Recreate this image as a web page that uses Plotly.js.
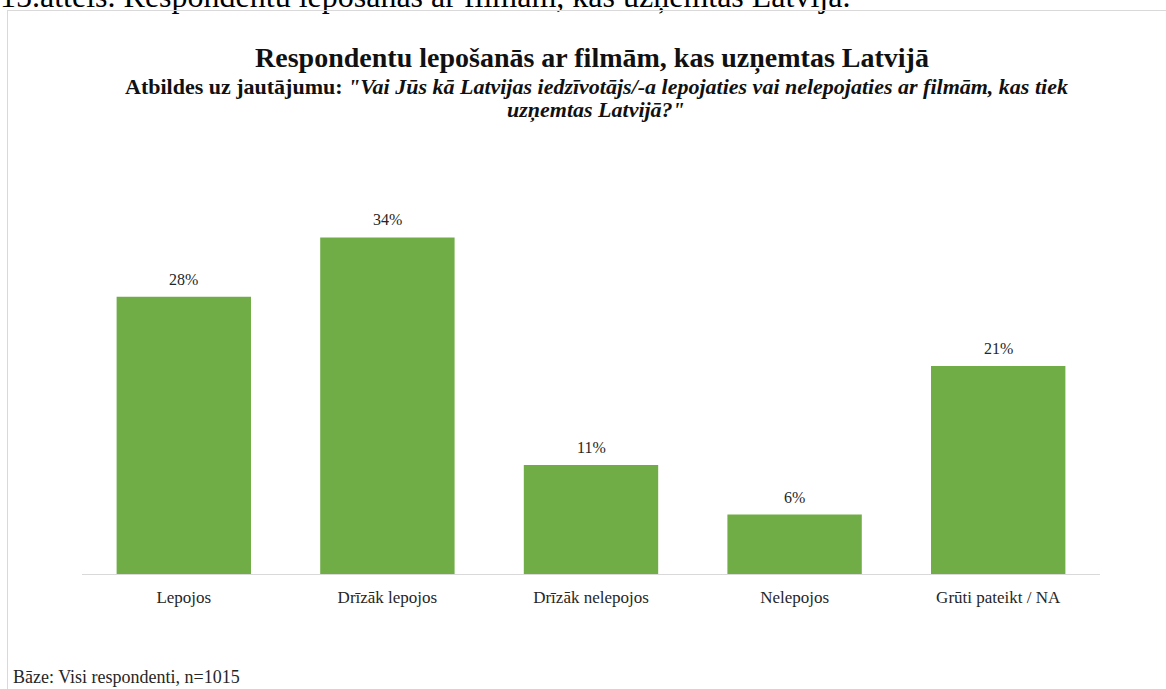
<!DOCTYPE html>
<html>
<head>
<meta charset="utf-8">
<script src="https://cdn.plot.ly/plotly-3.0.1.min.js"></script>
<style>
  html, body { margin: 0; padding: 0; background: #ffffff; }
  #wrap { position: relative; width: 1166px; height: 689px; overflow: hidden; }
  #chart { position: absolute; left: 0; top: 0; width: 1166px; height: 689px; }
  #frame { position: absolute; left: 7px; top: 10px; width: 1200px; height: 700px;
           border: 1px solid #d9d9d9; box-sizing: border-box; pointer-events: none; }
</style>
</head>
<body>
<div id="wrap">
  <div id="chart"></div>
  <div id="frame"></div>
</div>
<script>
const categories = ["Lepojos", "Drīzāk lepojos", "Drīzāk nelepojos", "Nelepojos", "Grūti pateikt / NA"];
const values = [28, 34, 11, 6, 21];
const valueLabels = ["28%", "34%", "11%", "6%", "21%"];

const figureCaption = "15.attēls. Respondentu lepošanās ar filmām, kas uzņemtas Latvijā.";
const chartTitle = "Respondentu lepošanās ar filmām, kas uzņemtas Latvijā";
const subtitleLine1 = '<b>Atbildes uz jautājumu: <i>"Vai Jūs kā Latvijas iedzīvotājs/-a lepojaties vai nelepojaties ar filmām, kas tiek</i></b>';
const subtitleLine2 = '<b><i>uzņemtas Latvijā?"</i></b>';
const baseNote = "Bāze: Visi respondenti, n=1015";

const W = 1166, H = 689;
const M = { l: 82, r: 66, t: 178, b: 115 };
const plotW = W - M.l - M.r, plotH = H - M.t - M.b;
const px = x => (x - M.l) / plotW;      // pixel -> paper x
const py = y => (H - M.b - y) / plotH;  // pixel -> paper y

const FONT = "'Liberation Serif', 'Times New Roman', serif";

const trace = {
  type: "bar",
  x: categories,
  y: values,
  marker: { color: "#70AD47" },
  hoverinfo: "skip"
};

const valueAnnotations = categories.map((c, i) => ({
  x: c, y: values[i], xref: "x", yref: "y",
  text: valueLabels[i], showarrow: false,
  yanchor: "bottom", yshift: 7,
  font: { family: FONT, size: 16, color: "#262626" }
}));

const layout = {
  width: W, height: H,
  margin: M,
  paper_bgcolor: "#ffffff",
  plot_bgcolor: "#ffffff",
  showlegend: false,
  bargap: 0.34,
  font: { family: FONT, color: "#262626" },
  title: {
    text: "<b>" + chartTitle + "</b>",
    xref: "container", yref: "container",
    x: 592 / W, y: 1 - 57 / H, xanchor: "center", yanchor: "middle",
    font: { family: FONT, size: 28, color: "#111111" }
  },
  xaxis: {
    showline: true, linecolor: "#d9d9d9", linewidth: 1,
    ticks: "", showgrid: false, zeroline: false,
    tickfont: { family: FONT, size: 17, color: "#262626" },
    ticklabelstandoff: 8,
    fixedrange: true
  },
  yaxis: {
    range: [0, 40], visible: false, showgrid: false, zeroline: false, fixedrange: true
  },
  annotations: [
    ...valueAnnotations,
    { xref: "paper", yref: "paper", x: px(596), y: py(86), xanchor: "center", yanchor: "middle",
      text: subtitleLine1, showarrow: false, font: { family: FONT, size: 22, color: "#111111" } },
    { xref: "paper", yref: "paper", x: px(596), y: py(110), xanchor: "center", yanchor: "middle",
      text: subtitleLine2, showarrow: false, font: { family: FONT, size: 22, color: "#111111" } },
    { xref: "paper", yref: "paper", x: px(11), y: py(677), xanchor: "left", yanchor: "middle",
      text: baseNote, showarrow: false, font: { family: FONT, size: 18, color: "#262626" } },
    { xref: "paper", yref: "paper", x: px(-2), y: py(-4), xanchor: "left", yanchor: "middle",
      text: figureCaption, showarrow: false, font: { family: FONT, size: 32, color: "#000000" } }
  ]
};

Plotly.newPlot("chart", [trace], layout, { displayModeBar: false, staticPlot: true });
</script>
</body>
</html>
